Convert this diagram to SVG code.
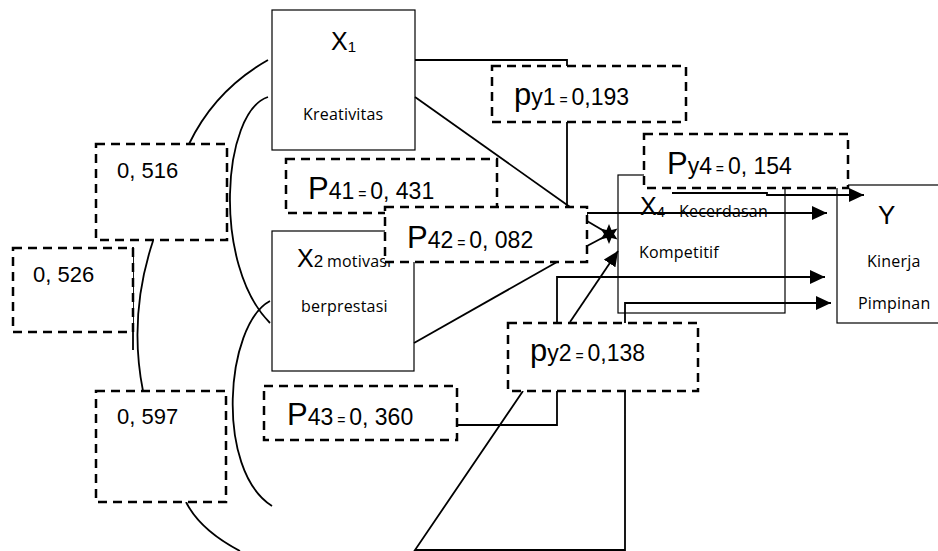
<svg xmlns="http://www.w3.org/2000/svg" width="938" height="551" viewBox="0 0 938 551">
  <style>
    .node { fill: #fff; stroke: #000; stroke-width: 1.2; }
    .coef { fill: #fff; stroke: #000; stroke-width: 2.5; stroke-dasharray: 9 6; }
    .wire { fill: none; stroke: #000; stroke-width: 1.8; }
    .lbl { font-family: "Liberation Sans", Arial, sans-serif; fill: #000; }
    .cap { font-family: "Open Sans", "Liberation Sans", sans-serif; font-size: 16px; letter-spacing: 0.2px; fill: #000; }
    .big { font-size: 31px; }
    .num { font-size: 23px; }
    .eq { font-size: 14px; }
  </style>
  <defs>
    <marker id="head" markerUnits="userSpaceOnUse" markerWidth="16" markerHeight="14" refX="15" refY="7" orient="auto">
      <path d="M0,0 L15,7 L0,14 Z" fill="#000"/>
    </marker>
  </defs>

  <!-- variable boxes -->
  <g id="x1">
    <rect class="node" x="272" y="10" width="143" height="140"/>
    <text class="lbl" x="331" y="50" font-size="25">X<tspan font-size="15" dy="2">1</tspan></text>
    <text class="cap" x="303" y="120">Kreativitas</text>
  </g>
  <g id="x2">
    <rect class="node" x="272" y="231" width="142" height="140"/>
    <text class="lbl" x="297" y="267" font-size="25">X<tspan font-size="17">2</tspan></text>
    <text class="cap" x="327" y="267">motivasi</text>
    <text class="cap" x="301" y="312">berprestasi</text>
  </g>
  <g id="x4">
    <rect class="node" x="618" y="175" width="167" height="138"/>
    <text class="lbl" x="640" y="215" font-size="25">X<tspan font-size="15" dy="2">4</tspan></text>
    <text class="cap" x="679" y="217">Kecerdasan</text>
    <text class="cap" x="639" y="258">Kompetitif</text>
  </g>
  <g id="y">
    <rect class="node" x="837" y="185" width="120" height="138"/>
    <text class="lbl" x="878" y="224" font-size="26">Y</text>
    <text class="cap" x="867" y="267">Kinerja</text>
    <text class="cap" x="858" y="309">Pimpinan</text>
  </g>

  <!-- connectors -->
  <g id="connectors">
    <path class="wire" d="M268,60 Q215,90 189,144"/>
    <path class="wire" d="M268,97 C222,112 212,265 270,323"/>
    <path class="wire" d="M270,301 C225,325 215,470 272,506"/>
    <path class="wire" d="M186,502 Q200,530 240,551"/>
    <path class="wire" d="M153,241 C140,280 131,330 143,391"/>
    <path class="wire" d="M133,247 V350"/>

    <path class="wire" d="M415,60 H567 V66"/>
    <path class="wire" d="M567,122 V207"/>
    <path class="wire" d="M415,97 L570,207"/>
    <path class="wire" d="M587,222 V213 H827" marker-end="url(#head)"/>
    <path class="wire" d="M587,221 L604,231"/>
    <path class="wire" d="M587,246 L604,237"/>
    <polygon fill="#000" points="609,224 611.5,230 617.5,228.5 614,234 617.5,239.5 611.5,238 609,244 606.5,238 600.5,239.5 604,234 600.5,228.5 606.5,230"/>
    <path class="wire" d="M414,343 L557,262"/>
    <path class="wire" d="M570,322 L618,251" marker-end="url(#head)"/>
    <path class="wire" d="M557,323 V277 H825" marker-end="url(#head)"/>
    <path class="wire" d="M625,323 V303 H831" marker-end="url(#head)"/>
    <path class="wire" d="M672,193 H767 V195 H864" marker-end="url(#head)"/>
    <path class="wire" d="M457,425 H557 V391"/>
    <path class="wire" d="M523,391 L415,550 H625 V391"/>
  </g>

  <!-- path coefficients -->
  <g id="r516">
    <rect class="coef" x="96" y="144" width="131" height="96"/>
    <text class="lbl" x="117" y="178" font-size="22">0, 516</text>
  </g>
  <g id="r526">
    <rect class="coef" x="13" y="248" width="120" height="84"/>
    <text class="lbl" x="33" y="282" font-size="22">0, 526</text>
  </g>
  <g id="r597">
    <rect class="coef" x="96" y="391" width="130" height="111"/>
    <text class="lbl" x="117" y="424" font-size="22">0, 597</text>
  </g>
  <g id="py1">
    <rect class="coef" x="492" y="66" width="194" height="56"/>
    <text class="lbl" x="514" y="105"><tspan class="big">p</tspan><tspan class="num">y1</tspan><tspan class="eq"> = </tspan><tspan class="num">0,193</tspan></text>
  </g>
  <g id="p41">
    <rect class="coef" x="286" y="159" width="211" height="54"/>
    <text class="lbl" x="308" y="199"><tspan class="big">P</tspan><tspan class="num">41</tspan><tspan class="eq"> = </tspan><tspan class="num">0, 431</tspan></text>
  </g>
  <g id="p42">
    <rect class="coef" x="385" y="207" width="202" height="55"/>
    <text class="lbl" x="407" y="248"><tspan class="big">P</tspan><tspan class="num">42</tspan><tspan class="eq"> = </tspan><tspan class="num">0, 082</tspan></text>
  </g>
  <g id="py4">
    <rect class="coef" x="644" y="134" width="204" height="54"/>
    <text class="lbl" x="667" y="174"><tspan class="big">P</tspan><tspan class="num">y4</tspan><tspan class="eq"> = </tspan><tspan class="num">0, 154</tspan></text>
  </g>
  <g id="py2">
    <rect class="coef" x="508" y="323" width="190" height="68"/>
    <text class="lbl" x="530" y="361"><tspan class="big">p</tspan><tspan class="num">y2</tspan><tspan class="eq"> = </tspan><tspan class="num">0,138</tspan></text>
  </g>
  <g id="p43">
    <rect class="coef" x="264" y="386" width="193" height="54"/>
    <text class="lbl" x="287" y="425"><tspan class="big">P</tspan><tspan class="num">43</tspan><tspan class="eq"> = </tspan><tspan class="num">0, 360</tspan></text>
  </g>
</svg>
